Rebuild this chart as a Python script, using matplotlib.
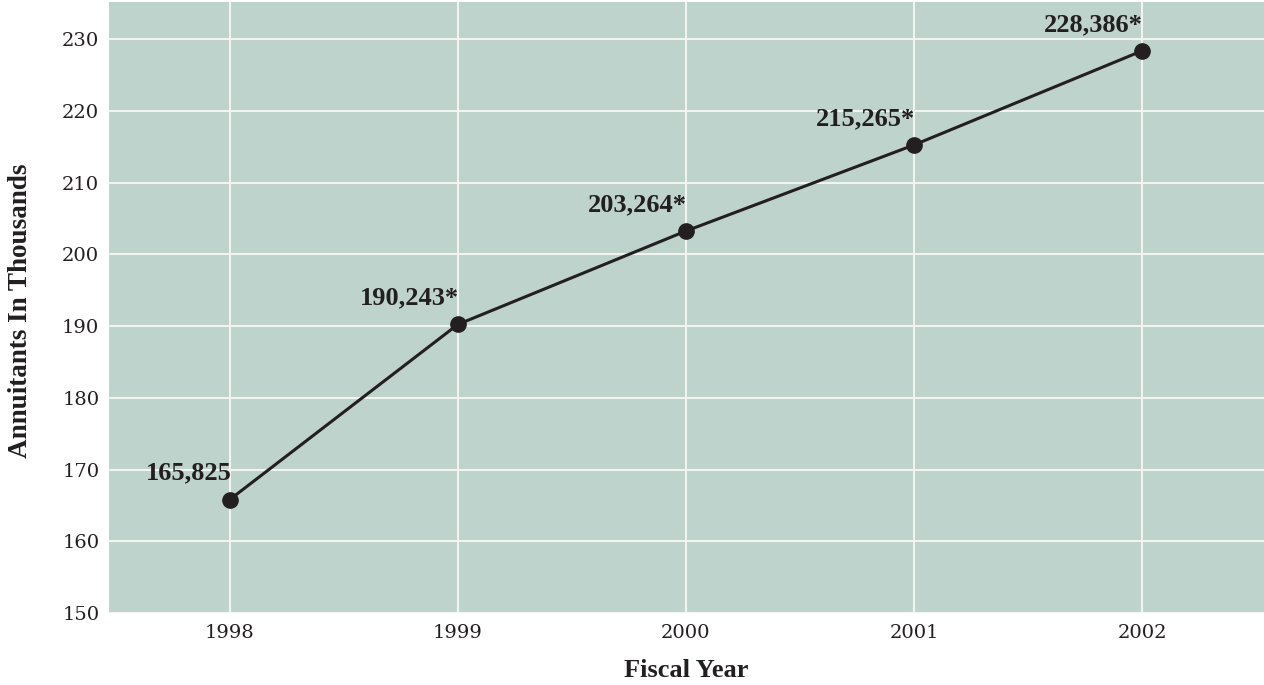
import matplotlib
matplotlib.use("Agg")
import matplotlib.pyplot as plt

years = [1998, 1999, 2000, 2001, 2002]
annuitants = [165825, 190243, 203264, 215265, 228386]
value_labels = ["165,825", "190,243*", "203,264*", "215,265*", "228,386*"]
y_ticks = [150, 160, 170, 180, 190, 200, 210, 220, 230]

BG = "#bed3cb"
INK = "#231f20"

fig = plt.figure(figsize=(12.64, 6.85), dpi=100)
ax = fig.add_axes([109 / 1264, 72 / 685, 1155 / 1264, 611 / 685])
ax.set_facecolor(BG)

thousands = [v / 1000 for v in annuitants]
ax.plot(years, thousands, color=INK, linewidth=2.2, marker="o", markersize=11,
        zorder=3, clip_on=False)

# value labels sit up and to the left of each point
for x, y, lab in zip(years, thousands, value_labels):
    ax.annotate(lab, (x, y), xytext=(2 if "*" not in lab else 1, 20),
                textcoords="offset pixels", ha="right", va="baseline",
                fontsize=19, fontweight="bold", family="Liberation Serif",
                color=INK)

ax.set_xlim(1997.47, 2002.535)
ax.set_ylim(150, 235.2)
ax.set_xticks(years)
ax.set_yticks(y_ticks)
ax.grid(True, color="#f2f4f2", linewidth=1.5)
ax.set_axisbelow(True)
for s in ax.spines.values():
    s.set_visible(False)
ax.tick_params(length=0, labelsize=14, colors=INK)
ax.tick_params(axis="x", pad=8)
ax.tick_params(axis="y", pad=7)
for t in ax.get_xticklabels() + ax.get_yticklabels():
    t.set_family("DejaVu Serif")

ax.set_xlabel("Fiscal Year", family="Liberation Serif", fontweight="bold",
              fontsize=19, color=INK)
ax.set_ylabel("Annuitants In Thousands", family="Liberation Serif",
              fontweight="bold", fontsize=19.5, color=INK)
ax.xaxis.set_label_coords(0.5, -0.075)
ax.yaxis.set_label_coords(-0.066, 0.494)

fig.savefig("out.png", dpi=100)
